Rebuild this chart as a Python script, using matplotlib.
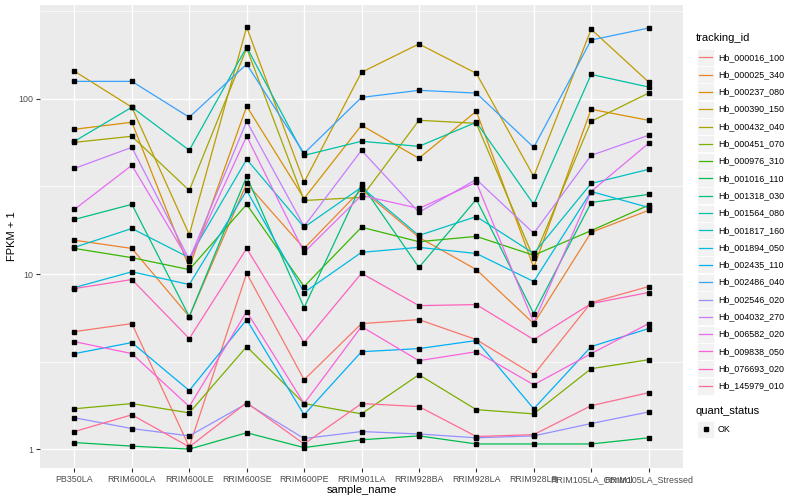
import matplotlib
matplotlib.use("Agg")
import matplotlib.pyplot as plt
from matplotlib.patches import Rectangle
from matplotlib.lines import Line2D

plt.rcParams["font.family"] = ["Liberation Sans", "DejaVu Sans"]

samples = ["PB350LA", "RRIM600LA", "RRIM600LE", "RRIM600SE", "RRIM600PE",
           "RRIM901LA", "RRIM928BA", "RRIM928LA", "RRIM928LB",
           "RRIM105LA_Control", "RRIM105LA_Stressed"]

tracking_ids = ["Hb_000016_100", "Hb_000025_340", "Hb_000237_080", "Hb_000390_150",
                "Hb_000432_040", "Hb_000451_070", "Hb_000976_310", "Hb_001016_110",
                "Hb_001318_030", "Hb_001564_080", "Hb_001817_160", "Hb_001894_050",
                "Hb_002435_110", "Hb_002486_040", "Hb_002546_020", "Hb_004032_270",
                "Hb_006582_020", "Hb_009838_050", "Hb_076693_020", "Hb_145979_010"]

# FPKM + 1, one list per tracking_id, in sample order
hb_000016_100 = [4.69, 5.21, 1.03, 10.1, 2.49, 5.21, 5.49, 4.22, 2.66, 6.87, 8.48]
hb_000025_340 = [15.6, 14.0, 5.71, 32.9, 14.0, 30.4, 16.2, 10.6, 5.21, 17.3, 23.1]
hb_000237_080 = [67.1, 73.6, 10.9, 90.8, 27.0, 70.7, 45.8, 85.1, 10.9, 87.3, 75.5]
hb_000390_150 = [144, 89.7, 16.8, 257, 33.4, 142, 206, 140, 36.1, 250, 125]
hb_000432_040 = [56.5, 61.2, 30.0, 195, 26.3, 27.4, 75.5, 72.6, 12.3, 74.5, 108]
hb_000451_070 = [1.70, 1.82, 1.61, 3.85, 1.82, 1.59, 2.66, 1.68, 1.59, 2.88, 3.24]
hb_000976_310 = [14.0, 12.4, 10.6, 25.0, 8.48, 18.5, 15.3, 16.4, 12.8, 17.7, 24.7]
hb_001016_110 = [1.09, 1.04, 1.00, 1.24, 1.02, 1.13, 1.19, 1.07, 1.07, 1.07, 1.16]
hb_001318_030 = [20.5, 25.0, 5.71, 36.1, 6.43, 32.5, 10.9, 26.7, 5.94, 25.6, 28.5]
hb_001564_080 = [57.3, 89.7, 50.9, 198, 47.6, 57.3, 53.6, 73.6, 25.0, 138, 117]
hb_001817_160 = [14.2, 18.2, 12.4, 45.2, 18.5, 31.3, 16.6, 21.3, 13.1, 32.9, 39.6]
hb_001894_050 = [8.37, 10.3, 8.71, 30.0, 7.84, 13.3, 14.2, 13.1, 9.06, 29.6, 24.0]
hb_002435_110 = [3.51, 4.06, 2.16, 5.49, 1.57, 3.60, 3.75, 4.17, 1.70, 3.85, 4.88]
hb_002486_040 = [126, 126, 78.6, 158, 48.9, 102, 112, 108, 52.9, 217, 254]
hb_002546_020 = [1.51, 1.31, 1.19, 1.82, 1.15, 1.26, 1.22, 1.16, 1.19, 1.40, 1.63]
hb_004032_270 = [40.1, 52.9, 12.1, 74.5, 18.7, 50.9, 22.5, 34.7, 17.1, 47.6, 62.0]
hb_006582_020 = [23.4, 41.8, 11.8, 61.2, 13.3, 28.1, 23.7, 33.4, 5.28, 29.6, 55.8]
hb_009838_050 = [4.11, 3.51, 1.75, 6.10, 1.82, 5.01, 3.20, 3.60, 2.33, 3.51, 5.21]
hb_076693_020 = [8.26, 9.30, 4.28, 14.0, 4.06, 10.1, 6.60, 6.69, 4.22, 6.78, 7.84]
hb_145979_010 = [1.26, 1.57, 1.03, 1.84, 1.07, 1.82, 1.75, 1.18, 1.21, 1.77, 2.10]

series = [hb_000016_100, hb_000025_340, hb_000237_080, hb_000390_150, hb_000432_040,
          hb_000451_070, hb_000976_310, hb_001016_110, hb_001318_030, hb_001564_080,
          hb_001817_160, hb_001894_050, hb_002435_110, hb_002486_040, hb_002546_020,
          hb_004032_270, hb_006582_020, hb_009838_050, hb_076693_020, hb_145979_010]

# ggplot hue palette, 20 levels
colors = ["#F8766D", "#EA8331", "#D89000", "#C09B00", "#A3A500", "#7CAE00", "#39B600",
          "#00BB4E", "#00BF7D", "#00C1A3", "#00BFC4", "#00BAE0", "#00B0F6", "#35A2FF",
          "#9590FF", "#C77CFF", "#E76BF3", "#FA62DB", "#FF62BC", "#FF6C91"]

W, H = 800, 500
fig = plt.figure(figsize=(8, 5), dpi=100)
ax = fig.add_axes([40 / W, (H - 468) / H, (683 - 40) / W, (468 - 5) / H])
ax.set_facecolor("#EBEBEB")
for s in ax.spines.values():
    s.set_visible(False)

xs = list(range(len(samples)))
for vals, col in zip(series, colors):
    ax.plot(xs, vals, color=col, lw=0.9, zorder=3)
for vals in series:
    ax.plot(xs, vals, ls="none", marker="s", ms=2.4, color="black", zorder=4)

ax.set_yscale("log")
ax.set_ylim(0.78, 344)
ax.set_xlim(-0.6, len(samples) - 0.4)
ax.set_yticks([1, 10, 100])
ax.set_yticklabels(["1", "10", "100"])
ax.set_yticks([10 ** 0.5, 10 ** 1.5, 10 ** 2.5], minor=True)
ax.set_yticklabels([], minor=True)
ax.set_xticks(xs)
ax.set_xticklabels(samples)
ax.tick_params(axis="both", which="major", length=3, width=0.8, color="#333333",
               labelsize=6.4, labelcolor="#4D4D4D", pad=2)
ax.tick_params(axis="y", which="minor", length=0)
ax.grid(True, which="major", color="white", lw=1.0, zorder=0)
ax.grid(True, which="minor", axis="y", color="white", lw=0.5, zorder=0)
ax.set_axisbelow(True)

ax.set_xlabel("sample_name", fontsize=8, color="black", labelpad=1)
ax.set_ylabel("FPKM + 1", fontsize=8, color="black", labelpad=1)

# legend, drawn in pixel coordinates
def px(x, y):
    return x / W, 1 - y / H

fig.text(*px(696, 38), "tracking_id", fontsize=8, va="center", ha="left")
for i, (tid, col) in enumerate(zip(tracking_ids, colors)):
    yc = 57.3 + i * 17.3
    fig.patches.append(Rectangle(px(697, yc + 8.5), 17 / W, 17 / H,
                                 transform=fig.transFigure, facecolor="#F2F2F2",
                                 edgecolor="white", lw=0.5))
    fig.lines.append(Line2D([699 / W, 712 / W], [1 - yc / H] * 2,
                            transform=fig.transFigure, color=col, lw=0.9))
    fig.text(*px(718, yc), tid, fontsize=6.4, va="center", ha="left")

fig.text(*px(696, 411), "quant_status", fontsize=8, va="center", ha="left")
yc = 429
fig.patches.append(Rectangle(px(697, yc + 8.5), 17 / W, 17 / H,
                             transform=fig.transFigure, facecolor="#F2F2F2",
                             edgecolor="white", lw=0.5))
fig.lines.append(Line2D([705.5 / W], [1 - yc / H], transform=fig.transFigure,
                        ls="none", marker="s", ms=2.4, color="black"))
fig.text(*px(718, yc), "OK", fontsize=6.4, va="center", ha="left")

fig.savefig("out.png", dpi=100)
